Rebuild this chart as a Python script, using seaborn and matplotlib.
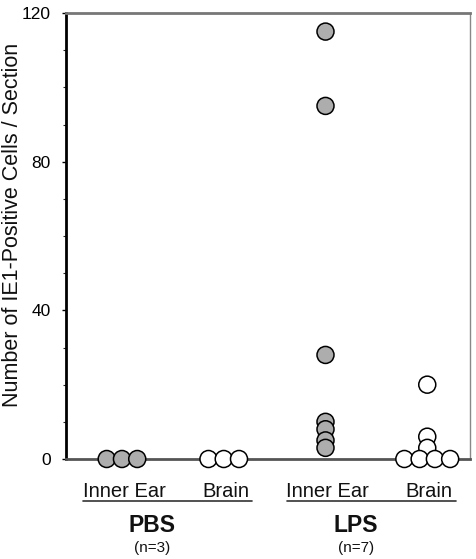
import numpy as np
import pandas as pd
import matplotlib
matplotlib.use("Agg")
import matplotlib.pyplot as plt
import seaborn as sns
from matplotlib.ticker import MultipleLocator

# ---- data ----
treatments = ["PBS", "LPS"]
n_labels = ["(n=3)", "(n=7)"]
tissues = ["Inner Ear", "Brain"]
pbs_inner_ear = [0, 0, 0]
pbs_brain = [0, 0, 0]
lps_inner_ear = [115, 95, 28, 10, 8, 5, 3]
lps_brain = [20, 6, 3, 0, 0, 0, 0]
y_ticks = [0, 40, 80, 120]
y_label = "Number of IE1-Positive Cells / Section"

groups = [("PBS", "Inner Ear", pbs_inner_ear), ("PBS", "Brain", pbs_brain),
          ("LPS", "Inner Ear", lps_inner_ear), ("LPS", "Brain", lps_brain)]

# spread coincident zero values side by side, others stacked on centre
spacing = 0.15
rows = []
for gi, (trt, tis, vals) in enumerate(groups):
    nz = sum(1 for v in vals if v == 0)
    k = 0
    for v in vals:
        if v == 0:
            off = (k - (nz - 1) / 2) * spacing
            k += 1
        else:
            off = 0.0
        rows.append({"x": gi + off, "value": v, "tissue": tis, "treatment": trt})
df = pd.DataFrame(rows)

sns.set_theme(style="white")
plt.rcParams["font.family"] = ["Liberation Sans", "DejaVu Sans"]

W, H = 476, 559
fig = plt.figure(figsize=(W / 100, H / 100), dpi=100)
ax = fig.add_axes([66 / W, 1 - 459 / H, 404 / W, 446 / H])

sns.scatterplot(data=df, x="x", y="value", hue="tissue",
                palette={"Inner Ear": "#adadad", "Brain": "white"},
                s=150, edgecolor="black", linewidth=1.1, legend=False,
                ax=ax, clip_on=False, zorder=5)

ax.set_xlim(-0.55, 3.42)
ax.set_ylim(0, 120)
ax.set_yticks(y_ticks)
ax.yaxis.set_minor_locator(MultipleLocator(10))
ax.tick_params(axis="y", which="major", direction="out", length=3, width=1,
               labelsize=12.5, pad=8, colors="black", left=True)
ax.tick_params(axis="y", which="minor", direction="out", length=2, width=0.8,
               left=True)
ax.set_xticks([])
ax.set_xlabel("")
ax.set_ylabel(y_label, fontsize=15.5, color="#111111")
ax.yaxis.set_label_coords(-0.106, 0.525)

for side, (lw, col) in {"left": (2.0, "black"), "bottom": (2.0, "#555555"),
                        "top": (2.0, "#777777"), "right": (1.0, "#888888")}.items():
    ax.spines[side].set_visible(True)
    ax.spines[side].set_linewidth(lw)
    ax.spines[side].set_color(col)

tr = ax.get_xaxis_transform()
def ay(py):
    return (459 - py) / 446

for gi, (trt, tis, vals) in enumerate(groups):
    ax.text(gi + 0.02, ay(497), tis, transform=tr, ha="center", va="baseline",
            fontsize=14.5, color="#111111", clip_on=False)

for ti, (trt, nl) in enumerate(zip(treatments, n_labels)):
    left, right = 2 * ti, 2 * ti + 1
    ax.plot([left - 0.38, right + 0.28], [ay(501)] * 2, transform=tr,
            color="#333333", lw=1.2, clip_on=False)
    cx = (left + right) / 2 - 0.2
    ax.text(cx, ay(532), trt, transform=tr, ha="center", va="baseline",
            fontsize=16.5, fontweight="bold", color="#111111", clip_on=False)
    ax.text(cx, ay(552), nl, transform=tr, ha="center", va="baseline",
            fontsize=11, color="#111111", clip_on=False)

fig.savefig("out.png", dpi=100)
